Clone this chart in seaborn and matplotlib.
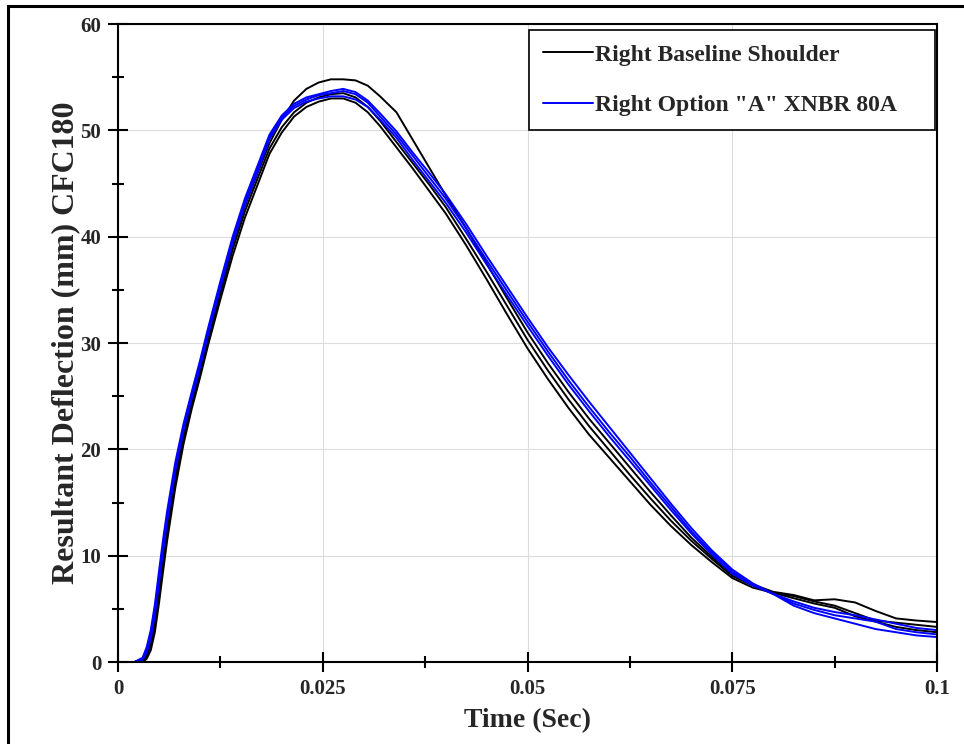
import numpy as np
import pandas as pd
import matplotlib.pyplot as plt
import seaborn as sns
from matplotlib.patches import Rectangle

# valores
time = [0, 0.002, 0.003, 0.0035, 0.004, 0.0045, 0.005, 0.0055, 0.006, 0.007,
        0.008, 0.009, 0.010, 0.011, 0.0125, 0.014, 0.0155, 0.017, 0.0185, 0.020,
        0.0215, 0.023, 0.0245, 0.026, 0.0275, 0.029, 0.0305, 0.032, 0.034, 0.036,
        0.038, 0.040, 0.0425, 0.045, 0.0475, 0.050, 0.0525, 0.055, 0.0575, 0.060,
        0.0625, 0.065, 0.0675, 0.070, 0.0725, 0.075, 0.0775, 0.080, 0.0825, 0.085,
        0.0875, 0.090, 0.0925, 0.095, 0.0975, 0.100]

base_1 = [0, 0, 0.1, 0.6, 1.8, 3.8, 6.6, 9.6, 12.4, 17.3,
          21.3, 24.5, 27.4, 30.5, 35.0, 39.3, 42.9, 45.9, 48.8, 51.0,
          52.8, 53.9, 54.5, 54.8, 54.8, 54.7, 54.2, 53.2, 51.7, 49.1,
          46.5, 43.9, 40.8, 37.5, 34.2, 31.0, 28.1, 25.4, 22.9, 20.6,
          18.3, 16.0, 13.8, 11.7, 9.9, 8.3, 7.3, 6.6, 6.3, 5.8,
          5.9, 5.6, 4.8, 4.1, 3.9, 3.76]
base_2 = [0, 0, 0.1, 0.5, 1.6, 3.4, 6.2, 9.2, 12.0, 17.0,
          21.0, 24.2, 27.1, 30.2, 34.6, 38.8, 42.4, 45.4, 48.3, 50.3,
          51.7, 52.6, 53.1, 53.4, 53.5, 53.1, 52.2, 50.9, 48.9, 46.9,
          44.9, 42.8, 39.8, 36.7, 33.5, 30.3, 27.4, 24.7, 22.2, 19.9,
          17.6, 15.4, 13.3, 11.4, 9.7, 8.1, 7.2, 6.5, 6.2, 5.7,
          5.3, 4.6, 3.9, 3.7, 3.5, 3.3]
base_3 = [0, 0, 0.0, 0.3, 1.1, 2.8, 5.5, 8.5, 11.4, 16.4,
          20.5, 23.8, 26.7, 29.8, 34.1, 38.2, 41.8, 44.8, 47.8, 49.8,
          51.3, 52.2, 52.7, 53.0, 53.0, 52.6, 51.7, 50.4, 48.4, 46.4,
          44.3, 42.2, 39.2, 36.0, 32.7, 29.5, 26.6, 23.9, 21.4, 19.2,
          17.0, 14.8, 12.8, 11.0, 9.4, 7.9, 7.0, 6.5, 6.0, 5.5,
          5.1, 4.3, 3.8, 3.3, 3.0, 2.8]

opt_1 = [0, 0, 0.4, 1.4, 3.0, 5.4, 8.5, 11.5, 14.2, 18.8,
         22.4, 25.4, 28.3, 31.4, 35.8, 40.0, 43.6, 46.6, 49.6, 51.4,
         52.5, 53.1, 53.4, 53.7, 53.9, 53.6, 52.8, 51.6, 49.9, 47.9,
         46.0, 44.0, 41.2, 38.2, 35.3, 32.4, 29.6, 27.0, 24.5, 22.1,
         19.7, 17.3, 14.9, 12.6, 10.5, 8.7, 7.4, 6.4, 5.7, 5.1,
         4.7, 4.4, 4.0, 3.6, 3.2, 3.0]
opt_2 = [0, 0, 0.3, 1.1, 2.6, 4.9, 7.9, 10.9, 13.7, 18.4,
         22.1, 25.1, 28.0, 31.1, 35.5, 39.7, 43.3, 46.3, 49.4, 51.2,
         52.3, 52.9, 53.3, 53.5, 53.7, 53.4, 52.6, 51.3, 49.6, 47.6,
         45.6, 43.6, 40.8, 37.8, 34.9, 32.0, 29.2, 26.5, 24.0, 21.6,
         19.3, 16.9, 14.6, 12.3, 10.3, 8.5, 7.3, 6.4, 5.5, 4.9,
         4.4, 4.1, 3.8, 3.1, 2.8, 2.6]
opt_3 = [0, 0, 0.2, 0.9, 2.2, 4.4, 7.4, 10.4, 13.2, 18.0,
         21.8, 24.8, 27.7, 30.8, 35.2, 39.4, 43.0, 46.0, 49.2, 51.0,
         52.1, 52.7, 53.0, 53.2, 53.2, 52.9, 52.2, 51.0, 49.3, 47.2,
         45.2, 43.2, 40.4, 37.4, 34.5, 31.6, 28.8, 26.1, 23.6, 21.2,
         18.9, 16.6, 14.3, 12.1, 10.1, 8.3, 7.2, 6.4, 5.3, 4.6,
         4.1, 3.6, 3.1, 2.8, 2.5, 2.35]

groups = ['Right Baseline Shoulder', 'Right Option "A" XNBR 80A']
runs = {groups[0]: [base_1, base_2, base_3],
        groups[1]: [opt_1, opt_2, opt_3]}

x_ticks = [0, 0.025, 0.05, 0.075, 0.1]
x_tick_labels = ['0', '0.025', '0.05', '0.075', '0.1']
y_ticks = [0, 10, 20, 30, 40, 50, 60]

# pasar a formato largo
rows = []
for g, curves in runs.items():
    for k, vals in enumerate(curves):
        for t, v in zip(time, vals):
            rows.append({'time': t, 'deflection': v, 'group': g, 'run': f'{g}_{k}'})
df = pd.DataFrame(rows)

sns.set_style('white')
plt.rcParams['font.family'] = ['Liberation Serif', 'DejaVu Serif']
plt.rcParams['font.weight'] = 'bold'

fig, ax = plt.subplots(figsize=(9.64, 7.44), dpi=100)
fig.subplots_adjust(left=0.1224, right=0.972, bottom=0.1102, top=0.9677)

sns.lineplot(data=df, x='time', y='deflection', hue='group', units='run',
             estimator=None, palette=['black', 'blue'], linewidth=1.4,
             ax=ax, sort=False)

ax.set_xlim(0, 0.1)
ax.set_ylim(0, 60)
ax.set_xticks(x_ticks, labels=x_tick_labels)
ax.set_xticks([0.0125, 0.0375, 0.0625, 0.0875], minor=True)
ax.set_yticks(y_ticks)
ax.set_yticks([5, 15, 25, 35, 45, 55], minor=True)

ax.tick_params(which='both', bottom=True, left=True, top=False, right=False)
ax.tick_params(which='major', direction='inout', length=14, width=1.5,
               labelsize=15, pad=5, color='black')
ax.tick_params(which='minor', direction='inout', length=8.5, width=1.5, color='black')
for s in ax.spines.values():
    s.set_linewidth(1.5)
    s.set_color('black')

ax.grid(True, which='major', color='#dcdcdc', linewidth=0.8)
ax.set_axisbelow(True)

ax.set_xlabel('Time (Sec)', fontsize=20, fontweight='bold', labelpad=6.5)
ax.set_ylabel('Resultant Deflection (mm) CFC180', fontsize=23, fontweight='bold', labelpad=0)

handles, labels = ax.get_legend_handles_labels()
leg = ax.legend(handles, labels, loc='upper left', mode='expand',
                bbox_to_anchor=(0.5018, 0.5, 0.4958, 0.4906), borderaxespad=0,
                fontsize=17, handlelength=2.1, handletextpad=0.1,
                borderpad=0.6, labelspacing=1.23, fancybox=False, framealpha=1)
leg.get_frame().set_edgecolor('black')
leg.get_frame().set_linewidth(1.2)
for line in leg.get_lines():
    line.set_linewidth(1.4)

# marco de la figura (solo izquierda y arriba visibles)
fig.patches.append(Rectangle((8 / 964, -0.1), 1.5, 1.1 - 6 / 744, transform=fig.transFigure,
                             fill=False, edgecolor='black', linewidth=2.2))

fig.savefig('out.png', dpi=100)
